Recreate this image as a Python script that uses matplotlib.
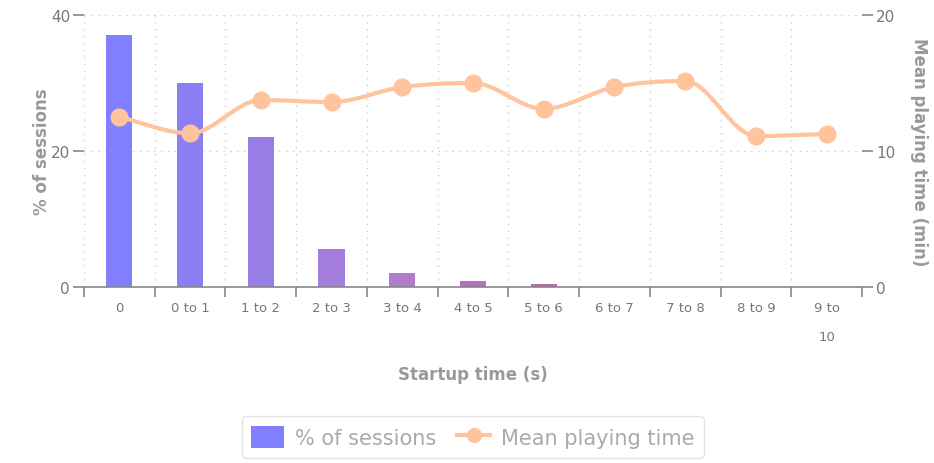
import numpy as np
from matplotlib import pyplot as plt
from matplotlib.path import Path
from matplotlib.patches import PathPatch
from matplotlib.lines import Line2D
from matplotlib.patches import Patch

categories = ['0', '0 to 1', '1 to 2', '2 to 3', '3 to 4', '4 to 5',
              '5 to 6', '6 to 7', '7 to 8', '8 to 9', '9 to\n10']
sessions_pct = [37.0, 30.0, 22.0, 5.6, 2.0, 0.9, 0.4, 0.0, 0.0, 0.0, 0.0]
mean_playing = [12.5, 11.3, 13.75, 13.6, 14.7, 15.0, 13.1, 14.7, 15.15, 11.1, 11.25]
bar_colors = ['#7f7fff', '#8a7ef2', '#967ee6', '#a47edc', '#b07ccc', '#b470bc',
              '#b868b0', '#b868b0', '#b868b0', '#b868b0', '#b868b0']

LINE_C = '#ffc49c'
GRID_C = '#cccccc'
TEXT_C = '#777777'


def smooth_path(xs, ys):
    # cubic bezier through the points, tangents from neighbours
    xs = np.asarray(xs, float)
    ys = np.asarray(ys, float)
    n = len(xs)
    verts = [(xs[0], ys[0])]
    codes = [Path.MOVETO]
    for i in range(n - 1):
        p0 = max(i - 1, 0)
        p3 = min(i + 2, n - 1)
        d = xs[i + 1] - xs[i]
        m1 = (ys[i + 1] - ys[p0]) / (xs[i + 1] - xs[p0])
        m2 = (ys[p3] - ys[i]) / (xs[p3] - xs[i])
        # flatten at local extrema
        if i > 0 and (ys[i] - ys[i - 1]) * (ys[i + 1] - ys[i]) <= 0:
            m1 = 0
        if i + 2 < n and (ys[i + 1] - ys[i]) * (ys[i + 2] - ys[i + 1]) <= 0:
            m2 = 0
        verts += [(xs[i] + d / 3, ys[i] + m1 * d / 3),
                  (xs[i + 1] - d / 3, ys[i + 1] - m2 * d / 3),
                  (xs[i + 1], ys[i + 1])]
        codes += [Path.CURVE4] * 3
    return Path(verts, codes)


if __name__ == '__main__':
    fig = plt.figure(figsize=(9.34, 4.64), dpi=100)
    ax = fig.add_axes([0.0899, 0.3793, 0.8330, 0.5862])
    x = np.arange(len(categories))
    ax.bar(x, sessions_pct, width=0.37, color=bar_colors, edgecolor='none', zorder=2)
    ax.set_xlim(-0.5, len(categories) - 0.5)
    ax.set_ylim(0, 40)
    ax.set_yticks([0, 20, 40])
    ax.set_xticks(np.arange(-0.5, len(categories), 1.0))
    ax.set_xticklabels([])
    ax.set_xticks(x, minor=True)
    ax.set_xticklabels(categories, minor=True, fontsize=9.5, color=TEXT_C,
                       linespacing=2.6, va='top')
    ax.tick_params(axis='x', which='minor', length=0, pad=10)
    ax.tick_params(axis='x', which='major', length=7, width=1.2, color='#888888',
                   direction='out')
    ax.tick_params(axis='y', length=8, width=1.2, color='#888888', labelsize=11,
                   labelcolor=TEXT_C, pad=2)
    for s in ['top', 'left', 'right']:
        ax.spines[s].set_visible(False)
    ax.spines['bottom'].set_color('#888888')
    ax.spines['bottom'].set_linewidth(1.2)
    ax.grid(True, which='major', color=GRID_C, linestyle=(0, (1, 4)), linewidth=1)
    ax.set_axisbelow(True)
    ax.set_ylabel('% of sessions', fontsize=12, fontweight='bold', color='#999999',
                  labelpad=0)
    ax.set_xlabel('Startup time (s)', fontsize=12, fontweight='bold', color='#999999',
                  labelpad=16)

    ax2 = ax.twinx()
    ax2.set_ylim(0, 20)
    ax2.set_yticks([0, 10, 20])
    for s in ['top', 'left', 'right', 'bottom']:
        ax2.spines[s].set_visible(False)
    ax2.tick_params(axis='y', length=8, width=1.2, color='#888888', labelsize=11,
                    labelcolor=TEXT_C, pad=2)
    ax2.add_patch(PathPatch(smooth_path(x, mean_playing), facecolor='none',
                            edgecolor=LINE_C, linewidth=3, zorder=3))
    ax2.plot(x, mean_playing, linestyle='none', marker='o', markersize=12,
             color=LINE_C, zorder=4)
    ax2.set_ylabel('Mean playing time (min)', fontsize=12, fontweight='bold',
                   color='#999999', rotation=-90, labelpad=24)

    handles = [Patch(facecolor='#7f7fff', edgecolor='none'),
               Line2D([0], [0], color=LINE_C, linewidth=3, marker='o', markersize=10)]
    leg = fig.legend(handles, ['% of sessions', 'Mean playing time'],
                     loc='center', bbox_to_anchor=(0.506, 0.056), ncol=2,
                     fontsize=15, frameon=True, fancybox=True, handlelength=1.6,
                     handleheight=1.3, borderpad=0.45, columnspacing=1.0,
                     handletextpad=0.5, borderaxespad=0)
    leg.get_frame().set_edgecolor('#dddddd')
    for t in leg.get_texts():
        t.set_color('#aaaaaa')

    plt.savefig('out.png', dpi=100)
